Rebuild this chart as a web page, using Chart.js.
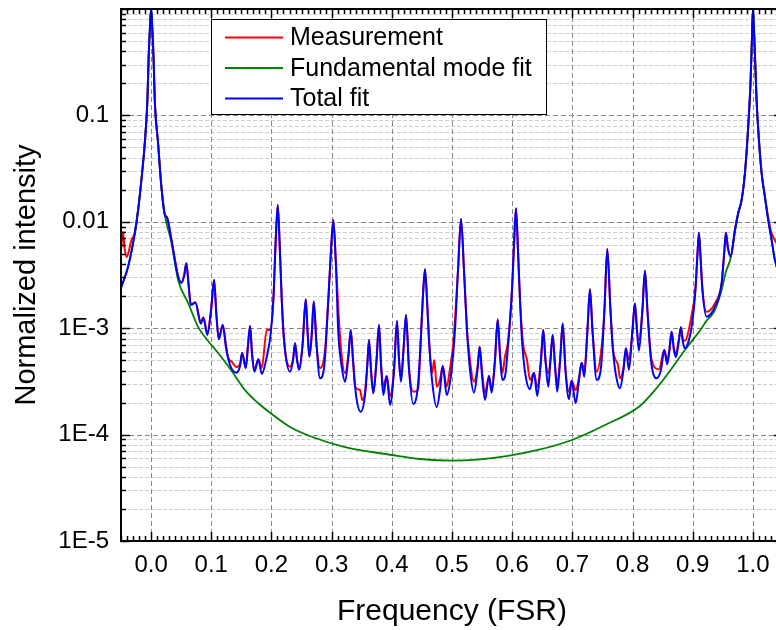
<!DOCTYPE html>
<html><head><meta charset="utf-8">
<script src="https://cdn.jsdelivr.net/npm/chart.js@4.4.1/dist/chart.umd.min.js"></script>
<style>
html,body{margin:0;padding:0;background:#fff;overflow:hidden;}
#wrap{width:776px;height:630px;overflow:hidden;position:relative;background:#fff;}
canvas{display:block;}
</style></head><body>
<div id="wrap"><canvas id="c" width="790" height="630" style="width:790px;height:630px"></canvas></div>
<script>
// ---------------- data ----------------
const seriesNames = ['Measurement', 'Fundamental mode fit', 'Total fit'];
const seriesColors = ['#ff0000', '#008000', '#0000ff'];

const xTickValues = [0.0, 0.1, 0.2, 0.3, 0.4, 0.5, 0.6, 0.7, 0.8, 0.9, 1.0];
const xTickLabels = ['0.0', '0.1', '0.2', '0.3', '0.4', '0.5', '0.6', '0.7', '0.8', '0.9', '1.0'];
const yTickValues = [1e-5, 1e-4, 1e-3, 1e-2, 1e-1];
const yTickLabels = ['1E-5', '1E-4', '1E-3', '0.01', '0.1'];

const measFreq = [
-0.05,-0.0466,-0.0441,-0.0408,-0.0365,-0.0327,-0.0271,-0.0216,-0.0161,-0.0105,
-0.0061,-0.0042,-0.0017,0,0.0017,0.0042,0.0061,0.0116,0.0171,0.0228,
0.0266,0.0337,0.0449,0.0503,0.0548,0.0586,0.0623,0.0659,0.0736,0.0826,
0.0869,0.0935,0.0997,0.1047,0.1085,0.1125,0.1191,0.1246,0.1279,0.1346,
0.1417,0.1478,0.1512,0.1573,0.1611,0.1645,0.1678,0.1716,0.1782,0.1839,
0.1922,0.1977,0.2032,0.2071,0.2105,0.2138,0.2171,0.2198,0.2309,0.2359,
0.2392,0.2425,0.2458,0.2517,0.2570,0.2603,0.2630,0.2669,0.2703,0.2749,
0.2807,0.2890,0.2945,0.2990,0.3028,0.3068,0.3140,0.3223,0.3281,0.3317,
0.3355,0.3389,0.3472,0.3510,0.3555,0.3593,0.3621,0.3654,0.3693,0.3746,
0.3787,0.3821,0.3859,0.3915,0.3970,0.4037,0.4086,0.4120,0.4153,0.4194,
0.4236,0.4286,0.4357,0.4435,0.4485,0.4518,0.4551,0.4585,0.4618,0.4668,
0.4706,0.4746,0.4801,0.4846,0.4912,0.4967,0.5022,0.5100,0.5150,0.5199,
0.5249,0.5271,0.5365,0.5424,0.5460,0.5498,0.5548,0.5615,0.5659,0.5714,
0.5759,0.5797,0.5836,0.5880,0.5935,0.5997,0.6030,0.6063,0.6096,0.6130,
0.6177,0.6246,0.6296,0.6362,0.6417,0.6478,0.6517,0.6553,0.6600,0.6636,
0.6673,0.6711,0.6749,0.6802,0.6839,0.6885,0.6944,0.6988,0.7055,0.7110,
0.7154,0.7198,0.7251,0.7292,0.7334,0.7404,0.7487,0.7533,0.7580,0.7633,
0.7674,0.7708,0.7757,0.7791,0.7849,0.7890,0.7940,0.7999,0.8040,0.8073,
0.8106,0.8164,0.8206,0.8247,0.8317,0.8439,0.8527,0.8576,0.8613,0.8649,
0.8688,0.8721,0.8771,0.8804,0.8837,0.8870,0.8982,0.9045,0.9078,0.9103,
0.9128,0.9161,0.9231,0.9302,0.9369,0.9480,0.9527,0.9551,0.9585,0.9630,
0.9701,0.9756,0.9812,0.9867,0.9922,0.9962,0.9983,1.0,1.0025,1.0061,
1.0100,1.0145,1.0199,1.0254,1.0311,1.0365,1.05];
const measValue = [
0.00543,0.0080,0.00568,0.00467,0.00543,0.00675,0.0078,0.0129,0.0247,0.0547,
0.140,0.332,0.707,1.0,0.707,0.332,0.140,0.0547,0.0214,0.0118,
0.0110,0.0069,0.0031,0.0027,0.0031,0.00407,0.0026,0.00168,0.00175,0.00115,
0.00127,0.0009,0.0015,0.00284,0.00135,0.0008,0.00107,0.00068,0.000536,0.00048,
0.000432,0.00046,0.000585,0.00043,0.0007,0.00105,0.00058,0.0004,0.00051,0.000423,
0.000962,0.000962,0.0019,0.0068,0.0144,0.0059,0.0019,0.0009,0.000435,0.00051,
0.000722,0.00051,0.000423,0.0007,0.00187,0.00087,0.00054,0.00087,0.00178,0.0007,
0.000423,0.000624,0.0019,0.0055,0.0104,0.0044,0.000832,0.000377,0.00058,0.000962,
0.00052,0.000282,0.000262,0.000211,0.000251,0.00046,0.000775,0.00041,0.000245,0.0005,
0.00107,0.00046,0.000282,0.000356,0.000231,0.00041,0.00117,0.0005,0.00034,0.00063,
0.00133,0.00042,0.000253,0.000262,0.000863,0.00205,0.00358,0.00184,0.00078,0.000377,
0.000502,0.000282,0.00033,0.000442,0.000282,0.00042,0.000726,0.00352,0.0106,0.00352,
0.00096,0.000695,0.000314,0.00043,0.00067,0.0004,0.000245,0.000356,0.000262,0.0005,
0.00121,0.00058,0.000377,0.00054,0.000775,0.00229,0.00605,0.0134,0.00543,0.00184,
0.000746,0.000502,0.000326,0.00038,0.000282,0.0005,0.000962,0.0005,0.000377,0.0005,
0.000863,0.00045,0.000303,0.00056,0.00111,0.00041,0.000253,0.000321,0.000262,0.00034,
0.000474,0.000405,0.000962,0.00232,0.000962,0.00039,0.00067,0.00148,0.00555,0.00148,
0.00065,0.000521,0.000451,0.000338,0.00042,0.000647,0.000502,0.000962,0.00171,0.000962,
0.000775,0.00148,0.00347,0.00148,0.000502,0.000411,0.000624,0.000502,0.00063,0.000927,
0.00063,0.000581,0.00079,0.00102,0.00078,0.000764,0.00133,0.00235,0.0049,0.00791,
0.0049,0.00235,0.00143,0.0015,0.00171,0.00264,0.00543,0.00791,0.00568,0.0047,
0.00838,0.0121,0.016,0.0286,0.0783,0.215,0.512,1.0,0.512,0.14,
0.0588,0.0286,0.0175,0.0110,0.0078,0.00675,0.00488];

const fundFreq = [
-0.05,-0.0382,-0.0271,-0.0216,-0.0161,-0.0105,-0.0061,-0.0042,-0.0017,0,
0.0017,0.0042,0.0061,0.0116,0.0171,0.0228,0.0337,0.0449,0.0615,0.0781,
0.0947,0.1113,0.1329,0.1561,0.1777,0.2005,0.2309,0.2669,0.3223,0.4003,
0.4468,0.5,0.5465,0.5930,0.6429,0.6993,0.7542,0.8123,0.8372,0.8593,
0.8870,0.9148,0.9236,0.9302,0.9369,0.9480,0.9551,0.9630,0.9701,0.9756,
0.9812,0.9867,0.9922,0.9962,0.9983,1.0,1.0025,1.0061,1.0100,1.0145,
1.0199,1.0254,1.0311,1.0365,1.05];
const fundValue = [
0.00239,0.00379,0.0078,0.0129,0.0247,0.0547,0.140,0.332,0.707,1.0,
0.707,0.332,0.140,0.0547,0.0214,0.0116,0.00646,0.00284,0.00173,0.00103,
0.000758,0.000585,0.000405,0.000262,0.000198,0.000156,0.000118,0.0000955,0.0000764,0.0000643,
0.000059,0.0000569,0.0000585,0.000063,0.0000717,0.000089,0.000123,0.000186,0.000262,0.000377,
0.000624,0.001,0.00119,0.0013,0.00148,0.00229,0.00337,0.00457,0.008,0.0121,
0.016,0.0286,0.0783,0.215,0.512,1.0,0.512,0.14,0.0588,0.0286,
0.0172,0.0104,0.00675,0.00438,0.00255];

const totalFreq = [
-0.05,-0.0382,-0.0271,-0.0216,-0.0161,-0.0105,-0.0061,-0.0042,-0.0017,0,
0.0017,0.0042,0.0061,0.0116,0.0171,0.0228,0.0266,0.0337,0.0449,0.0503,
0.0548,0.0586,0.0623,0.0659,0.0736,0.0826,0.0869,0.0935,0.0997,0.1047,
0.1085,0.1125,0.1191,0.1246,0.1312,0.1417,0.1478,0.1512,0.1573,0.1611,
0.1645,0.1678,0.1716,0.1782,0.1839,0.1922,0.1985,0.2032,0.2071,0.2105,
0.2138,0.2171,0.2226,0.2309,0.2359,0.2392,0.2425,0.2458,0.2517,0.2570,
0.2603,0.2630,0.2669,0.2703,0.2749,0.2807,0.2874,0.2945,0.2990,0.3028,
0.3068,0.3111,0.3164,0.3223,0.3281,0.3317,0.3355,0.3405,0.3483,0.3555,
0.3593,0.3621,0.3654,0.3693,0.3746,0.3787,0.3821,0.3859,0.3915,0.3970,
0.4037,0.4086,0.4120,0.4153,0.4194,0.4236,0.4286,0.4357,0.4435,0.4485,
0.4518,0.4551,0.4585,0.4618,0.4668,0.4746,0.4801,0.4846,0.4912,0.4983,
0.5050,0.5100,0.5150,0.5199,0.5249,0.5299,0.5365,0.5424,0.5460,0.5498,
0.5548,0.5615,0.5659,0.5714,0.5759,0.5797,0.5836,0.5880,0.5939,0.5997,
0.6030,0.6063,0.6096,0.6130,0.6163,0.6213,0.6296,0.6362,0.6417,0.6478,
0.6517,0.6553,0.6600,0.6636,0.6673,0.6711,0.6749,0.6802,0.6839,0.6885,
0.6944,0.6988,0.7055,0.7110,0.7154,0.7198,0.7251,0.7292,0.7334,0.7404,
0.7475,0.7533,0.7580,0.7633,0.7674,0.7724,0.7791,0.7849,0.7890,0.7940,
0.7999,0.8040,0.8073,0.8106,0.8164,0.8206,0.8247,0.8306,0.8400,0.8472,
0.8527,0.8576,0.8613,0.8649,0.8688,0.8721,0.8771,0.8804,0.8837,0.8870,
0.8937,0.8987,0.9045,0.9078,0.9103,0.9128,0.9161,0.9231,0.9302,0.9369,
0.9480,0.9527,0.9551,0.9585,0.9630,0.9701,0.9756,0.9812,0.9867,0.9922,
0.9962,0.9983,1.0,1.0025,1.0061,1.0100,1.0145,1.0199,1.0254,1.0311,
1.0365,1.05];
const totalValue = [
0.00239,0.00379,0.0078,0.0129,0.0247,0.0547,0.140,0.332,0.707,1.0,
0.707,0.332,0.140,0.0547,0.0214,0.0116,0.0109,0.00675,0.00305,0.00266,
0.0031,0.00407,0.00255,0.00165,0.00173,0.0011,0.00125,0.000863,0.00148,0.00284,
0.00133,0.000787,0.00107,0.000652,0.000451,0.000382,0.000442,0.000585,0.00042,0.000695,
0.00105,0.00056,0.00039,0.00051,0.000372,0.00054,0.000863,0.00184,0.00675,0.0144,
0.00583,0.00184,0.000624,0.00039,0.000502,0.000722,0.000502,0.000405,0.000695,0.00187,
0.000863,0.00054,0.000863,0.00178,0.000695,0.000338,0.000423,0.00184,0.00543,0.0104,
0.00438,0.0009,0.000451,0.000314,0.00056,0.000962,0.000502,0.000236,0.000164,0.000236,
0.000451,0.000775,0.000405,0.000245,0.000502,0.00107,0.000451,0.000236,0.000356,0.00019,
0.000405,0.00117,0.000502,0.000314,0.000624,0.00133,0.000405,0.000194,0.000292,0.000863,
0.00205,0.00358,0.00184,0.000775,0.000326,0.000181,0.000262,0.000442,0.000236,0.000363,
0.000962,0.00352,0.0106,0.00352,0.000962,0.000405,0.000248,0.000405,0.00067,0.000363,
0.000211,0.000356,0.000248,0.000502,0.00121,0.00056,0.000326,0.00035,0.000775,0.00229,
0.00605,0.0134,0.00543,0.00184,0.000775,0.000388,0.000267,0.000382,0.000231,0.000502,
0.000962,0.000502,0.000282,0.000502,0.000863,0.000451,0.000253,0.00056,0.00111,0.000405,
0.000215,0.000321,0.000197,0.000326,0.000474,0.00035,0.000962,0.00232,0.000962,0.000326,
0.000423,0.00148,0.00555,0.00148,0.000624,0.000363,0.000272,0.000405,0.000647,0.000405,
0.000962,0.00171,0.000962,0.000615,0.00148,0.00347,0.00148,0.000502,0.000338,0.000405,
0.000624,0.000458,0.000624,0.000927,0.000624,0.000533,0.000775,0.00102,0.000741,0.000647,
0.000775,0.00107,0.00229,0.00488,0.00791,0.00488,0.00229,0.00128,0.00136,0.00159,
0.00264,0.00543,0.00791,0.00568,0.0047,0.00838,0.0121,0.016,0.0286,0.0783,
0.215,0.512,1.0,0.512,0.14,0.0588,0.0286,0.0172,0.0104,0.00675,
0.00438,0.00255];

// ---------------- chart ----------------
const FONT = "'Liberation Sans', Arial, Helvetica, sans-serif";
Chart.defaults.font.family = FONT;
Chart.defaults.color = '#000';

const toPts = (xs, ys) => xs.map((x, i) => ({x: x, y: ys[i]}));
const minorMantissas = [2, 3, 4, 5, 6, 7, 8, 9];

const originStyle = {
  id: 'originStyle',
  beforeDatasetsDraw(chart) {
    const {ctx, chartArea: a, scales} = chart;
    const xs = scales.x, ys = scales.y;
    ctx.save();
    ctx.lineWidth = 1;
    ctx.strokeStyle = '#cdcdcd';
    ctx.setLineDash([4, 2]);
    for (let e = -5; e < 0; e++) {
      for (const m of minorMantissas) {
        const py = Math.round(ys.getPixelForValue(m * Math.pow(10, e))) + 0.5;
        ctx.beginPath(); ctx.moveTo(a.left, py); ctx.lineTo(a.right, py); ctx.stroke();
      }
    }
    ctx.strokeStyle = '#888888';
    ctx.setLineDash([5, 3]);
    ys.ticks.forEach(t => {
      const py = Math.round(ys.getPixelForValue(t.value)) + 0.5;
      ctx.beginPath(); ctx.moveTo(a.left, py); ctx.lineTo(a.right, py); ctx.stroke();
    });
    xs.ticks.forEach(t => {
      const px = Math.round(xs.getPixelForValue(t.value)) + 0.5;
      ctx.beginPath(); ctx.moveTo(px, a.top); ctx.lineTo(px, a.bottom); ctx.stroke();
    });
    ctx.restore();
  },
  afterDatasetsDraw(chart) {
    const {ctx, chartArea: a, scales} = chart;
    const xs = scales.x, ys = scales.y;
    ctx.save();
    ctx.setLineDash([]);
    ctx.strokeStyle = '#000';
    ctx.lineWidth = 1.5;
    const MAJ = 9, MIN = 5;
    for (let i = -5; i <= 105; i++) {
      const px = Math.round(xs.getPixelForValue(i / 100)) + 0.5;
      const len = (i % 10 === 0) ? MAJ : MIN;
      ctx.beginPath();
      ctx.moveTo(px, a.bottom); ctx.lineTo(px, a.bottom - len);
      ctx.moveTo(px, a.top); ctx.lineTo(px, a.top + len);
      ctx.stroke();
    }
    for (let e = -5; e <= 0; e++) {
      const marks = e < 0 ? [1].concat(minorMantissas) : [1];
      for (const m of marks) {
        const py = Math.round(ys.getPixelForValue(m * Math.pow(10, e))) + 0.5;
        const len = m === 1 ? MAJ : MIN;
        ctx.beginPath();
        ctx.moveTo(a.left, py); ctx.lineTo(a.left + len, py);
        ctx.moveTo(a.right, py); ctx.lineTo(a.right - len, py);
        ctx.stroke();
      }
    }
    ctx.lineWidth = 2;
    ctx.strokeRect(a.left, a.top, a.right - a.left, a.bottom - a.top);

    const box = {x: 211.5, y: 19.5, w: 335, h: 95};
    ctx.fillStyle = '#fff';
    ctx.fillRect(box.x, box.y, box.w, box.h);
    ctx.lineWidth = 1;
    ctx.strokeStyle = '#000';
    ctx.strokeRect(box.x, box.y, box.w, box.h);
    ctx.font = '25px ' + FONT;
    ctx.textBaseline = 'middle';
    ctx.textAlign = 'left';
    const rowY = [37.5, 68, 98.5];
    chart.data.datasets.forEach((ds, i) => {
      const y = rowY[i];
      ctx.strokeStyle = ds.borderColor;
      ctx.lineWidth = 1.8;
      ctx.beginPath(); ctx.moveTo(225, y); ctx.lineTo(283, y); ctx.stroke();
      ctx.fillStyle = '#000';
      ctx.fillText(ds.label, 290, y + 1);
    });
    ctx.restore();
  }
};

new Chart(document.getElementById('c'), {
  type: 'line',
  data: {
    datasets: [
      {label: seriesNames[0], data: toPts(measFreq, measValue), borderColor: seriesColors[0], borderWidth: 2, order: 3},
      {label: seriesNames[1], data: toPts(fundFreq, fundValue), borderColor: seriesColors[1], borderWidth: 1.8, order: 2},
      {label: seriesNames[2], data: toPts(totalFreq, totalValue), borderColor: seriesColors[2], borderWidth: 2, order: 1}
    ]
  },
  options: {
    responsive: false,
    animation: false,
    devicePixelRatio: 1,
    layout: {padding: {top: 9, right: 7, left: 0, bottom: 0}},
    elements: {point: {radius: 0, hoverRadius: 0}, line: {tension: 0, fill: false, cubicInterpolationMode: 'monotone'}},
    plugins: {legend: {display: false}, tooltip: {enabled: false}},
    events: [],
    scales: {
      x: {
        type: 'linear', min: -0.05, max: 1.05,
        afterBuildTicks: s => { s.ticks = xTickValues.map(v => ({value: v})); },
        afterFit: s => { s.height = 89; s.paddingLeft = 0; s.paddingRight = 0; },
        grid: {display: false, drawTicks: false},
        border: {display: false},
        ticks: {autoSkip: false, maxRotation: 0, minRotation: 0, padding: 10,
                font: {size: 24, lineHeight: 1.2}, color: '#000',
                callback: (v, i) => xTickLabels[i]},
        title: {display: true, text: 'Frequency (FSR)', color: '#000',
                font: {size: 30, lineHeight: 1.2}, padding: {top: 0, bottom: 0}}
      },
      y: {
        type: 'logarithmic', min: 1e-5, max: 1,
        afterBuildTicks: s => { s.ticks = yTickValues.map(v => ({value: v})); },
        afterFit: s => { s.width = 121; s.paddingTop = 0; s.paddingBottom = 0; },
        grid: {display: false, drawTicks: false},
        border: {display: false},
        ticks: {autoSkip: false, padding: 12, font: {size: 24, lineHeight: 1.2}, color: '#000',
                callback: (v, i) => yTickLabels[i]},
        title: {display: true, text: 'Normalized intensity', color: '#000',
                font: {size: 29, lineHeight: 1.2}, padding: {top: 10, bottom: 0}}
      }
    }
  },
  plugins: [originStyle]
});
</script>
</body></html>
